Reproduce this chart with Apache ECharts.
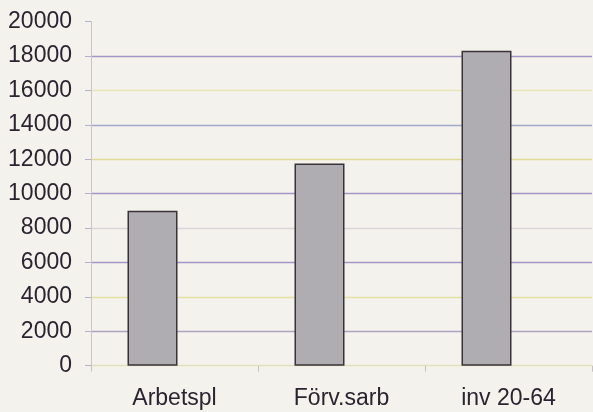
<!DOCTYPE html>
<html>
<head>
<meta charset="utf-8">
<script src="https://cdn.jsdelivr.net/npm/echarts@6/dist/echarts.min.js"></script>
<style>
html,body{margin:0;padding:0;background:#f4f2ed;}
#c{width:593px;height:412px;}
</style>
</head>
<body>
<div id="c"></div>
<script>
var categories = ['Arbetspl', 'Förv.sarb', 'inv 20-64'];
var values = [9000, 11750, 18300];
var ghost = [null, null, null];
var yTicks = [0, 2000, 4000, 6000, 8000, 10000, 12000, 14000, 16000, 18000, 20000];
var gridColors = ['#dfe2bc', '#aba2c2', '#e4e2a4', '#a396c8', '#d9d5da', '#a396c8', '#e2da96', '#a2a8c8', '#e9e6bc', '#a396c8', 'rgba(0,0,0,0)'];

var chart = echarts.init(document.getElementById('c'), null, {renderer: 'canvas'});
chart.setOption({
  backgroundColor: '#f4f2ed',
  animation: false,
  textStyle: {fontFamily: 'Liberation Sans'},
  grid: {left: 91, right: 1, top: 21.6, bottom: 46.3, containLabel: false, outerBoundsMode: 'none'},
  xAxis: {
    type: 'category',
    data: categories,
    axisLine: {show: false},
    axisTick: {show: true, length: 6, lineStyle: {color: '#c4c0c6', width: 1}},
    axisLabel: {color: '#2b2430', fontSize: 23, margin: 21, fontFamily: 'Liberation Sans'}
  },
  yAxis: {
    type: 'value',
    min: yTicks[0],
    max: yTicks[yTicks.length - 1],
    interval: 2000,
    axisLine: {show: true, lineStyle: {color: '#c8c4c8', width: 1}},
    axisTick: {show: true, length: 6, lineStyle: {color: '#b8b0c8'}},
    axisLabel: {color: '#2b2430', fontSize: 23, margin: 19, fontFamily: 'Liberation Sans',
      formatter: function (v) { return String(v); }},
    splitLine: {show: true, lineStyle: {color: gridColors, width: 1.3}}
  },
  series: [
    {
      type: 'bar',
      data: values,
      barWidth: 50,
      barGap: '-12%',
      itemStyle: {color: '#afadb1', borderColor: '#3a3238', borderWidth: 1.5}
    },
    {
      type: 'bar',
      data: ghost,
      barWidth: 50,
      barGap: '-12%',
      itemStyle: {color: 'rgba(0,0,0,0)'}
    }
  ]
});
</script>
</body>
</html>
